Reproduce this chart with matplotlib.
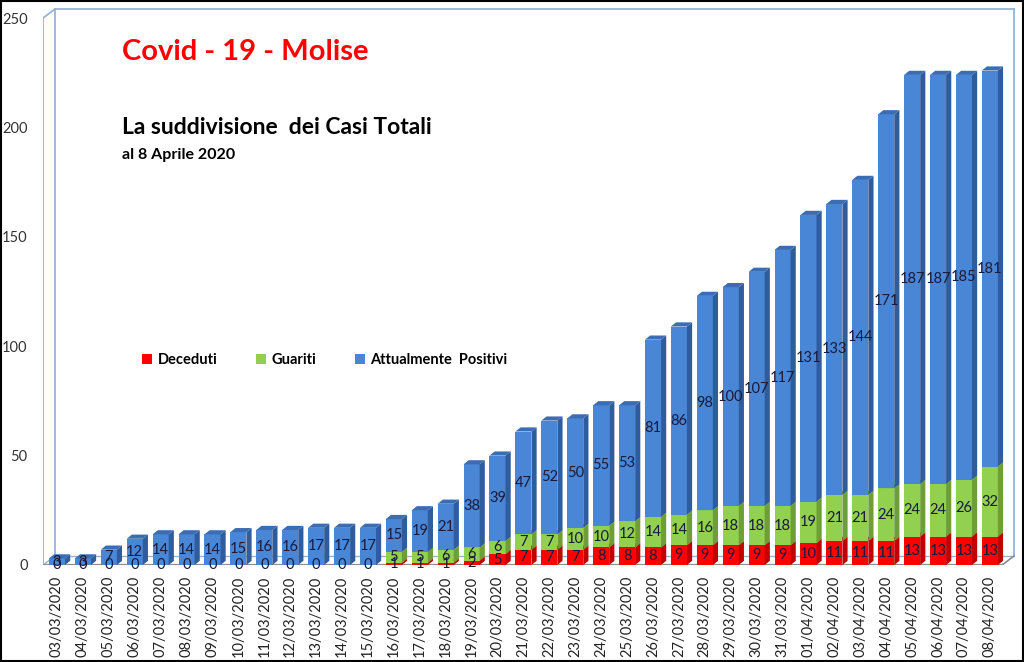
import matplotlib
matplotlib.use("Agg")
import matplotlib.pyplot as plt
from matplotlib.patches import Polygon, Rectangle
import numpy as np

plt.rcParams['font.family'] = ['Lato', 'DejaVu Sans']

# ---------------- data ----------------
dates = ["03/03/2020", "04/03/2020", "05/03/2020", "06/03/2020", "07/03/2020",
         "08/03/2020", "09/03/2020", "10/03/2020", "11/03/2020", "12/03/2020",
         "13/03/2020", "14/03/2020", "15/03/2020", "16/03/2020", "17/03/2020",
         "18/03/2020", "19/03/2020", "20/03/2020", "21/03/2020", "22/03/2020",
         "23/03/2020", "24/03/2020", "25/03/2020", "26/03/2020", "27/03/2020",
         "28/03/2020", "29/03/2020", "30/03/2020", "31/03/2020", "01/04/2020",
         "02/04/2020", "03/04/2020", "04/04/2020", "05/04/2020", "06/04/2020",
         "07/04/2020", "08/04/2020"]
deceduti = [0, 0, 0, 0, 0, 0, 0, 0, 0, 0, 0, 0, 0, 1, 1, 1, 2, 5, 7, 7, 7, 8, 8,
            8, 9, 9, 9, 9, 9, 10, 11, 11, 11, 13, 13, 13, 13]
guariti = [0, 0, 0, 0, 0, 0, 0, 0, 0, 0, 0, 0, 0, 5, 5, 6, 6, 6, 7, 7, 10, 10,
           12, 14, 14, 16, 18, 18, 18, 19, 21, 21, 24, 24, 24, 26, 32]
positivi = [3, 3, 7, 12, 14, 14, 14, 15, 16, 16, 17, 17, 17, 15, 19, 21, 38, 39,
            47, 52, 50, 55, 53, 81, 86, 98, 100, 107, 117, 131, 133, 144, 171,
            187, 187, 185, 181]

series = [("Deceduti", deceduti, "#ff0000", "#c00000", "#e00000"),
          ("Guariti", guariti, "#92d050", "#6e9e36", "#7fbf40"),
          ("Attualmente  Positivi", positivi, "#4a86d6", "#2f5c9c", "#3a6db4")]

# ---------------- figure ----------------
fig = plt.figure(figsize=(10.24, 6.62), dpi=100)
ax = fig.add_axes([43 / 1024, 97 / 662, 972 / 1024, 559 / 662])

x0, x1 = -0.54, 36.97
ax.set_xlim(x0, x1)
ax.set_ylim(0, 255.5)

# finte pareti 3D
dxw, dyw = 0.46, 4.1
wall = "#95b3d7"
xr = x1 - 0.04
ax.plot([x0, x0], [0, 250], color=wall, lw=1.3, zorder=1)
ax.plot([x0, x0 + dxw], [250, 250 + dyw], color=wall, lw=1.3, zorder=1)
ax.plot([x0 + dxw, x0 + dxw], [dyw, 250 + dyw], color=wall, lw=1.3, zorder=1)
ax.plot([x0 + dxw, xr], [250 + dyw, 250 + dyw], color=wall, lw=1.3, zorder=1)
ax.plot([xr, xr], [dyw, 250 + dyw], color=wall, lw=1.3, zorder=1)
ax.plot([x0 + dxw, xr], [dyw, dyw], color=wall, lw=1.0, zorder=1)
ax.plot([x0, x0 + dxw], [0, dyw], color=wall, lw=1.0, zorder=1)
ax.plot([x0, xr - dxw], [0, 0], color="#8c8c8c", lw=1.6, zorder=1)
ax.plot([xr - dxw, xr], [0, dyw], color="#8c8c8c", lw=1.2, zorder=1)

# barre impilate con lato e tetto
xs = np.arange(len(dates))
w = 0.62
dx, dy = 0.2, 1.9
bottom = np.zeros(len(dates))
z = 3
for name, vals, front, side, top in series:
    vals = np.array(vals, dtype=float)
    ax.bar(xs, vals, w, bottom=bottom, color=front, zorder=z, label=name,
           linewidth=0)
    for xi, b, v in zip(xs, bottom, vals):
        if v <= 0:
            continue
        t = b + v
        ax.add_patch(Polygon([(xi + w / 2, b), (xi + w / 2 + dx, b + dy),
                              (xi + w / 2 + dx, t + dy), (xi + w / 2, t)],
                             closed=True, facecolor=side, edgecolor="none",
                             zorder=z))
        ax.add_patch(Polygon([(xi - w / 2, t), (xi - w / 2 + dx, t + dy),
                              (xi + w / 2 + dx, t + dy), (xi + w / 2, t)],
                             closed=True, facecolor=top, edgecolor="none",
                             zorder=z))
    bottom = bottom + vals
    z += 1

# etichette valori
bottom = np.zeros(len(dates))
for k, (name, vals, front, side, top) in enumerate(series):
    vals = np.array(vals, dtype=float)
    for xi, b, v in zip(xs, bottom, vals):
        if k == 1 and v == 0:
            continue
        ax.text(xi, b + v / 2, f"{int(v)}", ha="center", va="center",
                fontsize=10.5, color="#1a1a3a", zorder=10)
    bottom = bottom + vals

# assi
for s in ax.spines.values():
    s.set_visible(False)
ax.set_yticks(range(0, 251, 50))
ax.tick_params(axis="y", length=0, pad=11, labelsize=10.5, labelcolor="#333333")
ax.set_xticks(xs)
ax.set_xticklabels(dates, rotation=90, fontsize=10.5, color="#222222")
ax.tick_params(axis="x", length=0, pad=8)

# titoli
fig.text(122 / 1024, 1 - 52 / 662, "Covid - 19 - Molise", color="#ff0000",
         fontsize=21, fontweight="bold", va="center", ha="left")
fig.text(122 / 1024, 1 - 128 / 662, "La suddivisione  dei Casi Totali",
         color="black", fontsize=16.5, fontweight="bold", va="center", ha="left")
fig.text(122 / 1024, 1 - 155 / 662, "al 8 Aprile 2020", color="black",
         fontsize=11.5, fontweight="bold", va="center", ha="left")

# legenda
handles, labels = ax.get_legend_handles_labels()
leg = ax.legend(handles, labels, ncol=3, frameon=False,
                loc="center", bbox_to_anchor=(0.29, 0.366),
                handlelength=0.7, handleheight=0.7, handletextpad=0.4,
                columnspacing=2.6, prop={"weight": "bold", "size": 10.5})

# cornice esterna
fig.patches.append(Rectangle((0.001, 0.001), 0.998, 0.998,
                             transform=fig.transFigure, fill=False,
                             edgecolor="black", lw=1.5))

fig.savefig("out.png", dpi=100)
